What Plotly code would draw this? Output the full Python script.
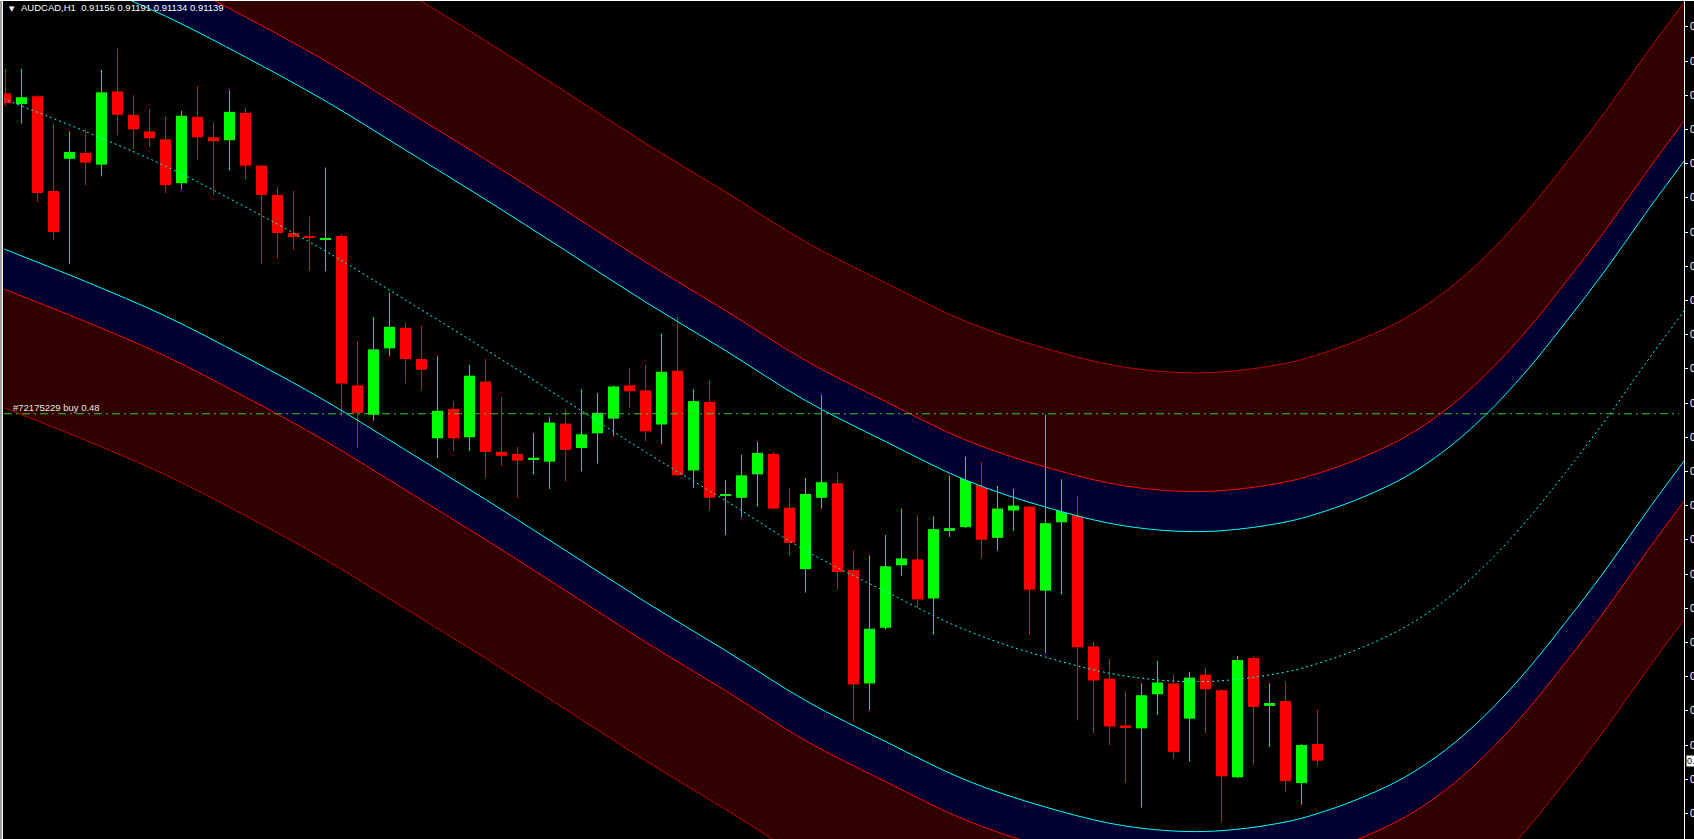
import plotly.graph_objects as go

# ---------------- data ----------------
symbol = "AUDCAD,H1"
opens = [0.91822, 0.91811, 0.91819, 0.91722, 0.91755, 0.91761, 0.91749, 0.91824, 0.91800, 0.91783,
         0.91775, 0.91730, 0.91798, 0.91777, 0.91774, 0.91802, 0.91748, 0.91718, 0.91679, 0.91676,
         0.91672, 0.91676, 0.91523, 0.91493, 0.91561, 0.91582, 0.91550, 0.91469, 0.91499, 0.91470,
         0.91527, 0.91455, 0.91453, 0.91447, 0.91445, 0.91484, 0.91459, 0.91474, 0.91489, 0.91523,
         0.91518, 0.91483, 0.91538, 0.91436, 0.91506, 0.91410, 0.91408, 0.91432, 0.91453, 0.91398,
         0.91335, 0.91408, 0.91423, 0.91334, 0.91218, 0.91275, 0.91339, 0.91345, 0.91305, 0.91374,
         0.91378, 0.91441, 0.91367, 0.91395, 0.91399, 0.91313, 0.91383, 0.91398, 0.91256, 0.91223,
         0.91175, 0.91172, 0.91207, 0.91218, 0.91182, 0.91227, 0.91211, 0.91122, 0.91244, 0.91195,
         0.91200, 0.91116, 0.91156]
highs = [0.91847, 0.91847, 0.91820, 0.91791, 0.91783, 0.91785, 0.91846, 0.91868, 0.91820, 0.91806,
         0.91798, 0.91804, 0.91829, 0.91792, 0.91825, 0.91807, 0.91749, 0.91726, 0.91722, 0.91696,
         0.91746, 0.91678, 0.91568, 0.91593, 0.91618, 0.91587, 0.91584, 0.91553, 0.91507, 0.91544,
         0.91550, 0.91511, 0.91460, 0.91474, 0.91490, 0.91498, 0.91519, 0.91515, 0.91523, 0.91541,
         0.91544, 0.91576, 0.91593, 0.91519, 0.91528, 0.91426, 0.91452, 0.91465, 0.91455, 0.91418,
         0.91428, 0.91513, 0.91434, 0.91354, 0.91349, 0.91370, 0.91397, 0.91390, 0.91389, 0.91431,
         0.91450, 0.91444, 0.91420, 0.91417, 0.91400, 0.91493, 0.91427, 0.91410, 0.91261, 0.91243,
         0.91210, 0.91218, 0.91241, 0.91227, 0.91230, 0.91234, 0.91212, 0.91246, 0.91246, 0.91218,
         0.91220, 0.91156, 0.91191]
lows = [0.91809, 0.91791, 0.91711, 0.91672, 0.91647, 0.91728, 0.91737, 0.91779, 0.91765, 0.91767,
        0.91720, 0.91724, 0.91754, 0.91718, 0.91743, 0.91734, 0.91647, 0.91653, 0.91662, 0.91640,
        0.91640, 0.91491, 0.91459, 0.91487, 0.91553, 0.91525, 0.91518, 0.91449, 0.91456, 0.91456,
        0.91428, 0.91441, 0.91408, 0.91432, 0.91417, 0.91425, 0.91435, 0.91443, 0.91471, 0.91500,
        0.91466, 0.91463, 0.91430, 0.91418, 0.91395, 0.91370, 0.91388, 0.91399, 0.91396, 0.91349,
        0.91311, 0.91397, 0.91314, 0.91179, 0.91191, 0.91273, 0.91328, 0.91295, 0.91268, 0.91368,
        0.91377, 0.91346, 0.91354, 0.91374, 0.91268, 0.91249, 0.91309, 0.91180, 0.91167, 0.91155,
        0.91116, 0.91091, 0.91186, 0.91141, 0.91138, 0.91167, 0.91076, 0.91121, 0.91135, 0.91153,
        0.91107, 0.91094, 0.91134]
closes = [0.91812, 0.91818, 0.91720, 0.91680, 0.91762, 0.91751, 0.91823, 0.91800, 0.91785, 0.91776,
          0.91728, 0.91799, 0.91777, 0.91773, 0.91803, 0.91748, 0.91718, 0.91679, 0.91675, 0.91674,
          0.91674, 0.91525, 0.91495, 0.91560, 0.91583, 0.91550, 0.91539, 0.91497, 0.91469, 0.91533,
          0.91455, 0.91451, 0.91446, 0.91449, 0.91485, 0.91457, 0.91473, 0.91495, 0.91522, 0.91517,
          0.91476, 0.91537, 0.91431, 0.91507, 0.91408, 0.91411, 0.91431, 0.91454, 0.91397, 0.91362,
          0.91412, 0.91424, 0.91332, 0.91217, 0.91274, 0.91338, 0.91346, 0.91304, 0.91376, 0.91377,
          0.91440, 0.91365, 0.91397, 0.91400, 0.91314, 0.91382, 0.91398, 0.91255, 0.91221, 0.91174,
          0.91173, 0.91206, 0.91219, 0.91148, 0.91224, 0.91212, 0.91123, 0.91242, 0.91194, 0.91198,
          0.91118, 0.91155, 0.91139]

# regression channel (centre line, bar index -> price)
center_idx = [-1, 0, 5, 10, 15, 20, 25, 30, 35, 40, 45, 50, 55, 60, 65, 70, 75, 80,
              82.5, 85, 87.5, 90, 92.5, 95, 97.5, 100, 102.5, 105, 106]
center_val = [0.918223, 0.918156, 0.917829, 0.917475, 0.917056, 0.916606, 0.916104, 0.915598,
              0.915076, 0.914549, 0.914052, 0.913540, 0.913121, 0.912727, 0.912450, 0.912256,
              0.912200, 0.912297, 0.912410, 0.912563, 0.912760, 0.913034, 0.913392, 0.913832,
              0.914339, 0.914876, 0.915455, 0.916012, 0.916237]
band_inner = 0.001535   # cyan lines
band_mid = 0.001945     # red lines
band_outer = 0.003160   # dark red outer lines

buy_price = 0.91494
buy_label = "#72175229 buy 0.48"
axis_labels = ["0.91890", "0.91855", "0.91820", "0.91785", "0.91750", "0.91715", "0.91680",
               "0.91645", "0.91610", "0.91575", "0.91540", "0.91505", "0.91470", "0.91435",
               "0.91400", "0.91365", "0.91330", "0.91295", "0.91260", "0.91225", "0.91190",
               "0.91155", "0.91120", "0.91085"]
y_range = [0.910588, 0.919175]
x_range = [-0.094, 104.906]

# ---------------- styles ----------------
BULL = "#00ff00"
BEAR = "#ff0000"
CYAN = "#00ffff"
RED = "#ff0000"
OUTER = "#c00000"
NAVY_FILL = "#000030"
DRED_FILL = "#310000"
W, H = 1694, 839
ML, MR, MT, MB = 4, 10, 0, 0
FONT = "Liberation Sans"

n = len(opens)
idx = list(range(n))

def off(k):
    return [c + k for c in center_val]

up_in, up_mid, up_out = off(band_inner), off(band_mid), off(band_outer)
lo_in, lo_mid, lo_out = off(-band_inner), off(-band_mid), off(-band_outer)

fig = go.Figure()

def band_fill(a, b, color):
    fig.add_trace(go.Scatter(
        x=center_idx + center_idx[::-1], y=a + b[::-1], mode="lines",
        line=dict(width=0, shape="spline", smoothing=1.0), fill="toself",
        fillcolor=color, hoverinfo="skip", showlegend=False))

band_fill(up_in, up_mid, NAVY_FILL)
band_fill(up_mid, up_out, DRED_FILL)
band_fill(lo_in, lo_mid, NAVY_FILL)
band_fill(lo_mid, lo_out, DRED_FILL)

# candles
for bull, col in ((True, BULL), (False, BEAR)):
    sel = [i for i in idx if (closes[i] > opens[i]) == bull]
    bx, base, hgt = [], [], []
    wx, wy = [], []
    for i in sel:
        lo_b = min(opens[i], closes[i])
        hi_b = max(opens[i], closes[i])
        bx.append(i)
        base.append(lo_b)
        hgt.append(max(hi_b - lo_b, 0.00001))
        wx += [i, i, None]
        wy += [lows[i], highs[i], None]
    fig.add_trace(go.Scatter(x=wx, y=wy, mode="lines", line=dict(color=col, width=1),
                             hoverinfo="skip", showlegend=False))
    fig.add_trace(go.Bar(x=bx, y=hgt, base=base, width=0.6875, marker=dict(color=col, line=dict(width=0)),
                         hoverinfo="skip", showlegend=False))

# channel lines
for ys, col in ((up_out, OUTER), (lo_out, OUTER), (up_mid, RED), (lo_mid, RED),
                (up_in, CYAN), (lo_in, CYAN)):
    fig.add_trace(go.Scatter(x=center_idx, y=ys, mode="lines",
                             line=dict(color=col, width=1, shape="spline", smoothing=1.0),
                             hoverinfo="skip", showlegend=False))
fig.add_trace(go.Scatter(x=center_idx, y=center_val, mode="lines",
                         line=dict(color=CYAN, width=1, dash="2px,3px", shape="spline", smoothing=1.0),
                         hoverinfo="skip", showlegend=False))

pw = W - ML - MR

def px(xp):
    return (xp - ML) / pw

def py(yp):
    return 1 - (yp - MT) / (H - MT - MB)

shapes = [
    # buy order line
    dict(type="line", xref="paper", yref="y", x0=0, x1=px(1679), y0=buy_price, y1=buy_price,
         line=dict(color="#32cd32", width=1, dash="8px,4px,2px,4px")),
    # window frame
    dict(type="rect", xref="paper", yref="paper", x0=px(-1), x1=px(2), y0=-0.01, y1=1.01,
         fillcolor="#a0a0a0", line=dict(width=0)),
    dict(type="line", xref="paper", yref="paper", x0=px(2.5), x1=px(2.5), y0=-0.01, y1=1.01,
         line=dict(color="#ffffff", width=1)),
    dict(type="line", xref="paper", yref="paper", x0=px(0), x1=px(1694), y0=1, y1=1,
         line=dict(color="#ffffff", width=2)),
]

annotations = [
    dict(text="▼", xref="paper", yref="paper", x=px(11.5), y=py(8.5), xanchor="center", yanchor="middle",
         showarrow=False, font=dict(family="DejaVu Sans", size=7, color="#ffffff")),
    dict(text=f"{symbol}  {opens[-1]:.5f} {highs[-1]:.5f} {lows[-1]:.5f} {closes[-1]:.5f}",
         xref="paper", yref="paper", x=px(19), y=py(8), xanchor="left", yanchor="middle",
         showarrow=False, font=dict(family=FONT, size=9.5, color="#ffffff")),
    dict(text=buy_label, xref="paper", yref="y", x=px(11), y=buy_price, yshift=6,
         xanchor="left", yanchor="middle", showarrow=False,
         font=dict(family=FONT, size=9.5, color="#e8e8e8")),
    dict(text=f"{closes[-1]:.5f}", xref="paper", yref="y", x=px(1686), y=closes[-1],
         xanchor="left", yanchor="middle", showarrow=False, bgcolor="#ffffff", borderpad=0,
         font=dict(family=FONT, size=9, color="#000000")),
]

fig.update_layout(
    width=W, height=H, margin=dict(l=ML, r=MR, t=MT, b=MB, pad=0),
    paper_bgcolor="#000000", plot_bgcolor="#000000",
    barmode="overlay", showlegend=False, hovermode=False,
    xaxis=dict(range=x_range, visible=False, showgrid=False, zeroline=False, fixedrange=True),
    yaxis=dict(range=y_range, side="right", showgrid=False, zeroline=False, automargin=False,
               showline=True, linecolor="#ffffff", linewidth=1,
               ticks="outside", ticklen=3, tickcolor="#ffffff", tickwidth=1,
               tickvals=[float(s) for s in axis_labels], ticktext=axis_labels,
               tickfont=dict(family=FONT, size=10, color="#ffffff"), fixedrange=True),
    shapes=shapes, annotations=annotations,
)

fig.write_html("out.html", config={"displayModeBar": False},
               post_script="document.body.style.margin='0';document.body.style.overflow='hidden';")
